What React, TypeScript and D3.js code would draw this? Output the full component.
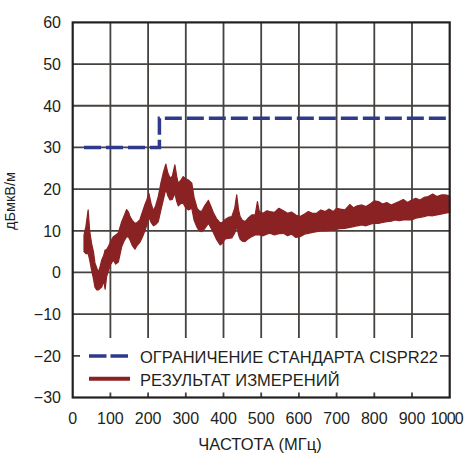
import React from "react";
import * as d3 from "d3";

const xTicks = [0, 100, 200, 300, 400, 500, 600, 700, 800, 900, 1000];
const yTicks = [60, 50, 40, 30, 20, 10, 0, -10, -20, -30];

// CISPR22 limit (step)
const limitFreq = [30, 230, 230, 1000];
const limitLevel = [30, 30, 37, 37];

// Measured emission band (envelope of noisy trace)
const measFreq = [30,35,41,45,50,55,59,64,68,73,77,82,86,90,95,101,108,114,121,126,130,136,143,148,152,158,165,171,178,185,192,197,202,208,214,220,227,234,240,247,252,258,264,271,276,280,286,293,300,307,316,322,330,336,342,350,360,366,373,381,391,397,404,413,422,430,435,440,444,450,457,465,475,484,490,495,505,515,523,535,547,559,570,580,592,603,615,625,636,647,658,670,680,691,700,710,722,735,745,755,767,778,790,800,811,822,833,845,855,866,877,888,899,910,921,932,943,955,966,977,988,1000];
const measHigh = [9,11,15,10,7,5,2.3,1,0,1.5,3,4,5.4,5.5,6.3,7.5,8.6,9,9.5,11,12.2,13.5,15.1,14.5,13.4,12.5,11.8,12,12.6,14.5,16.4,17.5,19,16.5,14.8,16,18.2,21.5,23.8,26,24,22.7,23,25.8,23,21.4,22,23,22.5,22.2,21.4,18,15.4,14.8,14.6,16,17.3,16,14.4,13,11.9,12,12.7,13.2,13.4,15.5,18.6,15,13.4,12.5,12.2,13,13.8,13.8,17,14.6,14.2,14.8,14.6,14.4,15.4,14.8,14.2,14.5,13.8,13.4,14,14.6,14.2,14.2,15,14.6,15.2,14.6,15.4,15.2,15,16.3,15.5,16,16.2,15.8,16.5,17.2,17,16.4,16.8,16.2,16.6,17,17.5,16.8,17.4,17.8,17.4,18,18.2,18.8,18.2,18.6,18.6,18.4];
const measLow = [5,4.5,4.6,3,0.6,-1.5,-3.5,-4.2,-4.2,-3.8,-3.5,-2,-4,-1,0.6,2,3,2,2.5,4.5,6.2,7.5,8.6,8.5,7.8,6.5,5.6,6.5,7.2,8.5,10.1,11.5,13.3,12,11.2,11.5,12.2,15,17.3,20,18.5,17.4,17.5,19,17,16,16.5,16.6,15.5,15,15.4,12.5,10.8,10,9.8,10.5,11.8,10.8,9.6,8,6.6,7,8,8.2,8.3,9.5,11,9,8,7.5,7.4,8,8.6,9,9,9,8.8,9.2,9.4,9,9.3,9.4,8.8,9.2,8.4,8.6,9.2,9.4,9.6,9.8,10,10,10.1,10.2,10.4,10.5,10.6,10.8,11,11.2,11.4,11.2,11.6,11.8,11.8,12,12.2,12.3,12.6,12.4,12.6,12.6,12.6,13,13.2,13.4,13.7,13.6,13.8,14,14.2,14.4];

const legendLabels = ["ОГРАНИЧЕНИЕ СТАНДАРТА CISPR22", "РЕЗУЛЬТАТ ИЗМЕРЕНИЙ"];

const BLUE = "#2f3a8a";
const RED = "#8a2224";
const GRID = "#45423f";
const FONT = "'Liberation Sans', Arial, sans-serif";

export default function App() {
  const left = 72.7, right = 449.7, top = 22.4, bottom = 397.5;
  const x = d3.scaleLinear().domain([0, 1000]).range([left, right]);
  const y = d3.scaleLinear().domain([-30, 60]).range([bottom, top]);

  const limitData = limitFreq.map((f, i) => [f, limitLevel[i]] as [number, number]);
  const limitPath = d3.line<[number, number]>().x(d => x(d[0])).y(d => y(d[1]))(limitData) || "";

  const measData = measFreq.map((f, i) => ({ f, hi: measHigh[i], lo: measLow[i] }));
  const areaPath = d3.area<{ f: number; hi: number; lo: number }>()
    .x(d => x(d.f)).y0(d => y(d.lo)).y1(d => y(d.hi))
    .curve(d3.curveLinear)(measData) || "";

  const fmt = (v: number) => (v < 0 ? "\u2212" + Math.abs(v) : String(v));

  return (
    <svg width={471} height={455} style={{ position: "absolute", left: 0, top: 0, background: "#fff" }} fontFamily={FONT}>
      <rect x={0} y={0} width={471} height={455} fill="#fff" />
      {/* grid */}
      {xTicks.slice(1, -1).map(t => (
        <line key={"gx" + t} x1={x(t)} x2={x(t)} y1={top} y2={bottom} stroke={GRID} strokeWidth={1.8} />
      ))}
      {yTicks.slice(1, -1).map(t => (
        <line key={"gy" + t} x1={left} x2={right} y1={y(t)} y2={y(t)} stroke={GRID} strokeWidth={1.8} />
      ))}
      {/* legend background */}
      <rect x={80} y={338} width={360} height={54.5} fill="#fff" />
      {/* data */}
      <path d={areaPath} fill={RED} stroke={RED} strokeWidth={1.2} strokeLinejoin="round" />
      <path d={limitPath} fill="none" stroke={BLUE} strokeWidth={3.5} strokeDasharray="17 5" />
      {/* frame */}
      <rect x={left} y={top} width={right - left} height={bottom - top} fill="none" stroke="#231f20" strokeWidth={2.2} />
      {/* y tick labels */}
      {yTicks.map(t => (
        <text key={"ty" + t} x={61} y={y(t) + 5.8} textAnchor="end" fontSize={16} fill="#231f20">{fmt(t)}</text>
      ))}
      {/* x tick labels */}
      {xTicks.map(t => (
        <text key={"tx" + t} x={x(t) - (t === 1000 ? 3 : 0)} y={424} textAnchor="middle" fontSize={16} fill="#231f20"
          letterSpacing={t === 1000 ? -0.8 : 0}>{t}</text>
      ))}
      <text x={260} y={450} textAnchor="middle" fontSize={16.5} fill="#231f20">ЧАСТОТА (МГц)</text>
      <text transform="translate(15,201) rotate(-90)" textAnchor="middle" fontSize={15.5} fill="#231f20"
        textLength={58} lengthAdjust="spacingAndGlyphs">дБмкВ/м</text>
      {/* legend */}
      <line x1={89} x2={128} y1={356} y2={356} stroke={BLUE} strokeWidth={3.5} strokeDasharray="17.5 4" />
      <text x={140} y={362.7} fontSize={16.5} fill="#231f20">{legendLabels[0]}</text>
      <line x1={89} x2={130} y1={378.7} y2={378.7} stroke={RED} strokeWidth={4} />
      <text x={140} y={386} fontSize={16.5} fill="#231f20">{legendLabels[1]}</text>
    </svg>
  );
}
